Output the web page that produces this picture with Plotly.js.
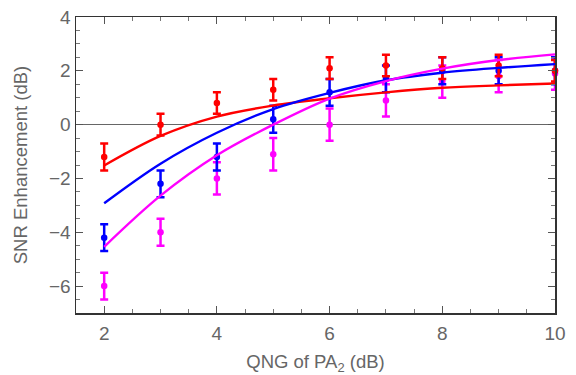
<!DOCTYPE html>
<html><head><meta charset="utf-8">
<script src="https://cdn.plot.ly/plotly-3.0.1.min.js"></script>
<style>html,body{margin:0;padding:0;background:#fff}#chart{width:576px;height:375px}</style>
</head><body><div id="chart"></div>
<script>
// Measured data (x = QNG of PA2 in dB)
const xPts = [2, 3, 4, 5, 6, 7, 8, 9, 10];
const redY = [-1.2, 0.0, 0.8, 1.3, 2.1, 2.2, 2.1, 2.2, 2.0];
const redErr = [0.5, 0.4, 0.4, 0.4, 0.4, 0.4, 0.4, 0.4, 0.4];
const blueY = [-4.2, -2.2, -1.2, 0.2, 1.2, 1.7, 2.0, 2.0, 2.0];
const blueErr = [0.5, 0.5, 0.5, 0.5, 0.5, 0.5, 0.5, 0.5, 0.5];
const magY = [-6.0, -4.0, -2.0, -1.1, 0.0, 0.9, 1.6, 1.8, 1.9];
const magErr = [0.5, 0.5, 0.6, 0.6, 0.6, 0.6, 0.6, 0.6, 0.6];
// Fitted curves, read at integer x
const fitX = [2, 3, 4, 5, 6, 7, 8, 9, 10];
const redFit = [-1.52, -0.42, 0.3, 0.71, 0.98, 1.2, 1.37, 1.46, 1.53];
const blueFit = [-2.92, -1.45, -0.3, 0.58, 1.18, 1.65, 1.93, 2.11, 2.25];
const magFit = [-4.54, -2.64, -1.14, 0.0, 0.97, 1.62, 2.08, 2.4, 2.61];

const RED = '#ff0000', BLUE = '#0000ff', MAG = '#ff00ff';

function pts(y, e, c) {
  return {x: xPts, y: y, type: 'scatter', mode: 'markers',
    marker: {color: c, size: 6.5},
    error_y: {type: 'data', array: e, visible: true, color: c, thickness: 2.5, width: 4},
    showlegend: false, hoverinfo: 'skip', cliponaxis: false};
}
function fit(y, c) {
  return {x: fitX, y: y, type: 'scatter', mode: 'lines',
    line: {color: c, width: 2.4, shape: 'spline', smoothing: 1},
    showlegend: false, hoverinfo: 'skip'};
}

const data = [pts(magY, magErr, MAG), pts(blueY, blueErr, BLUE), pts(redY, redErr, RED),
  fit(redFit, RED), fit(blueFit, BLUE), fit(magFit, MAG)];

const tickFont = {family: 'Liberation Sans, Arial, sans-serif', size: 19, color: '#666'};
const titleFont = {family: 'Liberation Sans, Arial, sans-serif', size: 18.5, color: '#666'};
const layout = {
  width: 576, height: 375,
  margin: {l: 76, r: 21, t: 17, b: 62},
  paper_bgcolor: '#fff', plot_bgcolor: '#fff',
  font: tickFont,
  xaxis: {
    range: [1.5, 10], tickmode: 'linear', tick0: 2, dtick: 2,
    ticks: 'inside', ticklen: 7, tickwidth: 1, tickcolor: '#555',
    minor: {dtick: 0.5, tick0: 2, ticks: 'inside', ticklen: 4, tickcolor: '#777', showgrid: false},
    showline: true, linecolor: '#333', linewidth: 1.5, mirror: 'ticks',
    showgrid: false, zeroline: false, tickfont: tickFont, ticklabelstandoff: 3,
    title: {text: 'QNG of PA<sub>2</sub> (dB)', font: titleFont, standoff: 12}
  },
  yaxis: {
    range: [-7, 4], tickmode: 'linear', tick0: 0, dtick: 2,
    ticks: 'inside', ticklen: 7, tickwidth: 1, tickcolor: '#555',
    minor: {dtick: 0.5, tick0: 0, ticks: 'inside', ticklen: 4, tickcolor: '#777', showgrid: false},
    showline: true, linecolor: '#333', linewidth: 1.5, mirror: 'ticks',
    showgrid: false, zeroline: true, zerolinecolor: '#666', zerolinewidth: 1,
    tickfont: tickFont,
    title: {text: 'SNR Enhancement (dB)', font: titleFont, standoff: 16}
  }
};
Plotly.newPlot('chart', data, layout, {staticPlot: true, displayModeBar: false});
</script></body></html>
